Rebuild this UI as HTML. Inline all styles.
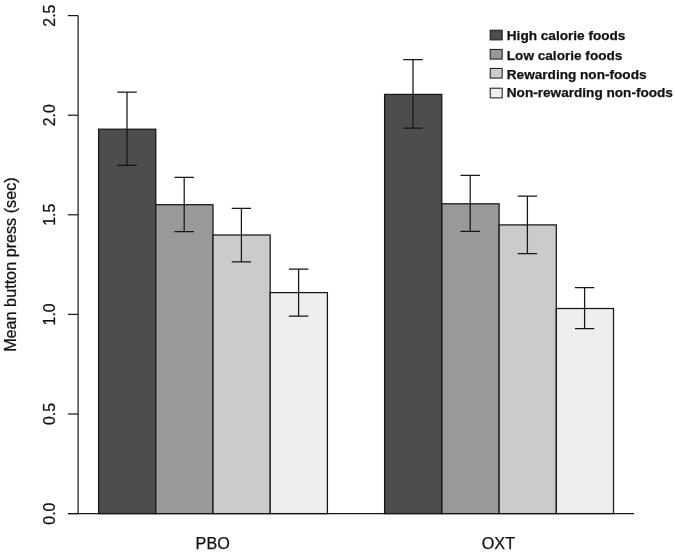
<!DOCTYPE html>
<html><head><meta charset="utf-8"><title>Mean button press</title>
<style>
html,body{margin:0;padding:0;background:#fff;}
body{width:675px;height:552px;overflow:hidden;}
svg{display:block;}
text{font-family:"Liberation Sans",Arial,sans-serif;fill:#111;stroke:#111;stroke-width:0.25px;}
</style></head><body>
<svg width="675" height="552" viewBox="0 0 675 552">
<rect width="675" height="552" fill="#fff"/>
<rect x="98.6" y="129.2" width="57.2" height="384.4" fill="#4d4d4d" stroke="#161616" stroke-width="1.25"/>
<rect x="155.8" y="204.7" width="57.2" height="308.9" fill="#999999" stroke="#161616" stroke-width="1.25"/>
<rect x="213.0" y="235.0" width="57.2" height="278.6" fill="#cbcbcb" stroke="#161616" stroke-width="1.25"/>
<rect x="270.2" y="292.6" width="57.2" height="221.0" fill="#eeeeee" stroke="#161616" stroke-width="1.25"/>
<rect x="384.6" y="94.4" width="57.2" height="419.2" fill="#4d4d4d" stroke="#161616" stroke-width="1.25"/>
<rect x="441.9" y="203.8" width="57.2" height="309.8" fill="#999999" stroke="#161616" stroke-width="1.25"/>
<rect x="499.1" y="224.9" width="57.2" height="288.7" fill="#cbcbcb" stroke="#161616" stroke-width="1.25"/>
<rect x="556.3" y="308.5" width="57.2" height="205.1" fill="#eeeeee" stroke="#161616" stroke-width="1.25"/>
<path d="M117.3 92.2H136.7M117.3 165.4H136.7M127.0 92.2V165.4" stroke="#161616" stroke-width="1.25" fill="none"/>
<path d="M174.5 177.4H193.9M174.5 231.5H193.9M184.2 177.4V231.5" stroke="#161616" stroke-width="1.25" fill="none"/>
<path d="M231.7 208.4H251.1M231.7 261.9H251.1M241.4 208.4V261.9" stroke="#161616" stroke-width="1.25" fill="none"/>
<path d="M288.9 269.0H308.3M288.9 316.1H308.3M298.6 269.0V316.1" stroke="#161616" stroke-width="1.25" fill="none"/>
<path d="M403.3 59.7H422.7M403.3 128.1H422.7M413.0 59.7V128.1" stroke="#161616" stroke-width="1.25" fill="none"/>
<path d="M460.5 175.4H479.9M460.5 231.3H479.9M470.2 175.4V231.3" stroke="#161616" stroke-width="1.25" fill="none"/>
<path d="M517.7 196.0H537.1M517.7 253.6H537.1M527.4 196.0V253.6" stroke="#161616" stroke-width="1.25" fill="none"/>
<path d="M574.9 287.7H594.3M574.9 328.7H594.3M584.6 287.7V328.7" stroke="#161616" stroke-width="1.25" fill="none"/>
<path d="M78.1 15.6V513.6" stroke="#161616" stroke-width="1.2" fill="none"/>
<path d="M67.9 513.6H78.1" stroke="#161616" stroke-width="1.2" fill="none"/>
<text transform="translate(54.9 513.6) rotate(-90)" text-anchor="middle" font-size="15.9">0.0</text>
<path d="M67.9 414.0H78.1" stroke="#161616" stroke-width="1.2" fill="none"/>
<text transform="translate(54.9 414.0) rotate(-90)" text-anchor="middle" font-size="15.9">0.5</text>
<path d="M67.9 314.4H78.1" stroke="#161616" stroke-width="1.2" fill="none"/>
<text transform="translate(54.9 314.4) rotate(-90)" text-anchor="middle" font-size="15.9">1.0</text>
<path d="M67.9 214.8H78.1" stroke="#161616" stroke-width="1.2" fill="none"/>
<text transform="translate(54.9 214.8) rotate(-90)" text-anchor="middle" font-size="15.9">1.5</text>
<path d="M67.9 115.2H78.1" stroke="#161616" stroke-width="1.2" fill="none"/>
<text transform="translate(54.9 115.2) rotate(-90)" text-anchor="middle" font-size="15.9">2.0</text>
<path d="M67.9 15.6H78.1" stroke="#161616" stroke-width="1.2" fill="none"/>
<text transform="translate(54.9 15.6) rotate(-90)" text-anchor="middle" font-size="15.9">2.5</text>
<path d="M67.9 513.6H634" stroke="#161616" stroke-width="1.25" fill="none"/>
<text transform="translate(16.2 264.6) rotate(-90)" text-anchor="middle" font-size="16.2">Mean button press (sec)</text>
<text x="212.7" y="548.9" text-anchor="middle" font-size="16.2">PBO</text>
<text x="498.4" y="548.9" text-anchor="middle" font-size="16.2">OXT</text>
<rect x="490.2" y="30.2" width="12" height="9.7" fill="#4d4d4d" stroke="#161616" stroke-width="1"/>
<text x="506.8" y="39.7" font-size="13.6" font-weight="bold">High calorie foods</text>
<rect x="490.2" y="49.4" width="12" height="9.7" fill="#999999" stroke="#161616" stroke-width="1"/>
<text x="506.8" y="59.6" font-size="13.6" font-weight="bold">Low calorie foods</text>
<rect x="490.2" y="68.4" width="12" height="9.7" fill="#cbcbcb" stroke="#161616" stroke-width="1"/>
<text x="506.8" y="78.7" font-size="13.6" font-weight="bold">Rewarding non-foods</text>
<rect x="490.2" y="88.2" width="12" height="9.7" fill="#eeeeee" stroke="#161616" stroke-width="1"/>
<text x="506.8" y="97.4" font-size="13.6" font-weight="bold">Non-rewarding non-foods</text>
</svg></body></html>
